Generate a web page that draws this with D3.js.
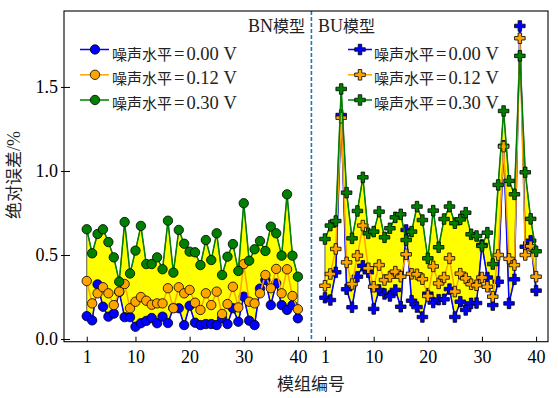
<!DOCTYPE html>
<html><head><meta charset="utf-8">
<script src="https://cdn.jsdelivr.net/npm/d3@7"></script>
<style>body{margin:0;background:#fff}svg{display:block}</style>
</head><body>
<svg id="chart" width="558" height="398"></svg>
<script>
// ---- data ----
const moduleIds = d3.range(1, 41);
const bnOffset = 0, buOffset = 44;
const xTickLabels = [1, 10, 20, 30, 40];
const yTicks = [0.0, 0.5, 1.0, 1.5];
const seriesNames = ["噪声水平=0.00 V", "噪声水平=0.12 V", "噪声水平=0.30 V"];
const seriesColors = ["#0000ff", "#ffa500", "#008000"];

const bn000 = [0.136,0.111,0.325,0.192,0.133,0.151,0.28,0.13,0.13,0.073,0.094,0.108,0.125,0.094,0.133,0.095,0.185,0.183,0.083,0.198,
               0.097,0.083,0.089,0.089,0.083,0.123,0.089,0.183,0.103,0.252,0.109,0.083,0.30,0.351,0.202,0.331,0.202,0.173,0.202,0.123];
const bn012 = [0.345,0.212,0.272,0.308,0.272,0.202,0.282,0.327,0.183,0.222,0.25,0.228,0.204,0.212,0.212,0.302,0.183,0.308,0.272,0.292,
               0.216,0.173,0.272,0.202,0.282,0.149,0.208,0.311,0.188,0.446,0.222,0.212,0.272,0.381,0.302,0.417,0.272,0.415,0.256,0.177];
const bn030 = [0.653,0.51,0.625,0.653,0.577,0.486,0.341,0.696,0.39,0.526,0.673,0.446,0.446,0.486,0.415,0.704,0.395,0.649,0.567,0.52,
               0.516,0.44,0.589,0.47,0.629,0.381,0.49,0.565,0.405,0.808,0.466,0.534,0.583,0.524,0.669,0.629,0.496,0.861,0.496,0.371];
const bu000 = [0.246,0.232,0.397,1.333,0.296,0.189,0.371,0.436,0.397,0.179,0.292,0.268,0.256,0.292,0.192,0.649,0.228,0.19,0.131,0.27,
               0.217,0.234,0.236,0.297,0.131,0.222,0.173,0.212,0.214,0.56,0.366,0.202,0.341,1.15,0.212,0.355,1.863,0.549,0.585,0.288];
const bu012 = [0.317,0.387,0.536,1.317,0.456,0.327,0.496,0.675,0.421,0.311,0.44,0.351,0.371,0.401,0.371,0.504,0.388,0.385,0.356,0.256,
               0.432,0.331,0.366,0.48,0.282,0.389,0.361,0.326,0.32,0.366,0.311,0.252,0.5,1.145,0.477,0.44,1.79,0.5,0.552,0.371];
const bu030 = [0.595,0.675,0.702,1.488,0.871,0.599,0.762,0.962,0.629,0.639,0.758,0.605,0.659,0.724,0.742,0.589,0.639,0.788,0.708,0.48,
               0.764,0.546,0.714,0.788,0.689,0.712,0.752,0.623,0.613,0.554,0.633,0.446,0.917,1.357,0.941,0.861,1.685,0.992,0.715,0.522];

const serif = "'Liberation Serif','Times New Roman',serif";
const cjk = "'Noto Sans CJK SC','Noto Sans CJK JP',sans-serif";

const svg = d3.select("#chart");
const L = 64, R = 548, T = 11, B = 341.7;
const x = d3.scaleLinear().domain([-3.2, 86.2]).range([L, R]);
const y = d3.scaleLinear().domain([-0.016, 1.952]).range([B, T]);

const plus = d3.symbol().type(d3.symbolCross).size(62);

function drawPanel(offset, s0, s1, s2, marker) {
  const pts = moduleIds.map((m, i) => ({x: m + offset, a: s0[i], b: s1[i], c: s2[i]}));
  svg.append("path").datum(pts)
    .attr("d", d3.area().x(d => x(d.x)).y0(d => y(d.a)).y1(d => y(d.c)))
    .attr("fill", "#ffff00").attr("stroke", "#333").attr("stroke-width", 0.8);
  [s0, s1, s2].forEach((s, k) => {
    const data = moduleIds.map((m, i) => ({x: m + offset, v: s[i]}));
    svg.append("path").datum(data)
      .attr("d", d3.line().x(d => x(d.x)).y(d => y(d.v)))
      .attr("fill", "none").attr("stroke", seriesColors[k]).attr("stroke-width", 1.5);
    const g = svg.append("g");
    if (marker === "circle") {
      g.selectAll("circle").data(data).join("circle")
        .attr("cx", d => x(d.x)).attr("cy", d => y(d.v)).attr("r", 4.7)
        .attr("fill", seriesColors[k]).attr("stroke", "#000").attr("stroke-width", 0.8);
    } else {
      g.selectAll("path").data(data).join("path")
        .attr("d", plus).attr("transform", d => `translate(${x(d.x)},${y(d.v)})`)
        .attr("fill", seriesColors[k]).attr("stroke", "#000").attr("stroke-width", 0.8);
    }
  });
}

drawPanel(bnOffset, bn000, bn012, bn030, "circle");
drawPanel(buOffset, bu000, bu012, bu030, "plus");

// divider
svg.append("line").attr("x1", x(42.5)).attr("x2", x(42.5)).attr("y1", T).attr("y2", B)
  .attr("stroke", "#1f77b4").attr("stroke-width", 1.6).attr("stroke-dasharray", "4,2");

// frame
svg.append("rect").attr("x", L).attr("y", T).attr("width", R - L).attr("height", B - T)
  .attr("fill", "none").attr("stroke", "#000").attr("stroke-width", 1.1);

// axes
const xTickVals = xTickLabels.map(v => v + bnOffset).concat(xTickLabels.map(v => v + buOffset));
const xAxis = svg.append("g").attr("transform", `translate(0,${B})`)
  .call(d3.axisBottom(x).tickValues(xTickVals).tickFormat(d => d > 42 ? d - buOffset : d)
    .tickSizeInner(-5).tickSizeOuter(0).tickPadding(8.5));
xAxis.select(".domain").remove();
xAxis.selectAll("text").attr("font-family", serif).attr("font-size", 18).attr("fill", "#000");
xAxis.selectAll("line").attr("stroke", "#000");

const yAxis = svg.append("g").attr("transform", `translate(${L},0)`)
  .call(d3.axisLeft(y).tickValues(yTicks).tickFormat(d3.format(".1f"))
    .tickSizeInner(-6).tickSizeOuter(0).tickPadding(6));
yAxis.select(".domain").remove();
yAxis.selectAll("text").attr("font-family", serif).attr("font-size", 18).attr("fill", "#000");
yAxis.selectAll("line").attr("stroke", "#000");
yAxis.selectAll(".tick").append("line").attr("x1", -3).attr("x2", 0).attr("stroke", "#000");

// axis labels
svg.append("text").attr("x", 311).attr("y", 390).attr("text-anchor", "middle")
  .attr("font-family", cjk).attr("font-size", 17).attr("fill", "#222").text("模组编号");
const yl = svg.append("text").attr("transform", "translate(20,175) rotate(-90)").attr("text-anchor", "middle")
  .attr("fill", "#222");
yl.append("tspan").attr("font-family", cjk).attr("font-size", 17).text("绝对误差");
yl.append("tspan").attr("font-family", serif).attr("font-size", 18).text("/%");

// panel titles
function title(xp, yp, anchor, latinTxt, cjkTxt) {
  const t = svg.append("text").attr("x", xp).attr("y", yp).attr("text-anchor", anchor).attr("fill", "#222");
  t.append("tspan").attr("font-family", serif).attr("font-size", 18).text(latinTxt);
  t.append("tspan").attr("font-family", cjk).attr("font-size", 16).text(cjkTxt);
}
title(305, 32, "end", "BN", "模型");
title(318, 32, "start", "BU", "模型");

// legends
const rowsMarker = [49.5, 74.8, 100];
const rowsText = [60, 84, 108.5];
function legend(lx0, lx1, mx, tx, marker) {
  seriesNames.forEach((name, k) => {
    svg.append("line").attr("x1", lx0).attr("x2", lx1).attr("y1", rowsMarker[k]).attr("y2", rowsMarker[k])
      .attr("stroke", seriesColors[k]).attr("stroke-width", 1.5);
    if (marker === "circle") {
      svg.append("circle").attr("cx", mx).attr("cy", rowsMarker[k]).attr("r", 4.7)
        .attr("fill", seriesColors[k]).attr("stroke", "#000").attr("stroke-width", 0.8);
    } else {
      svg.append("path").attr("d", plus).attr("transform", `translate(${mx},${rowsMarker[k]})`)
        .attr("fill", seriesColors[k]).attr("stroke", "#000").attr("stroke-width", 0.8);
    }
    const parts = name.split("=");
    const t = svg.append("text").attr("x", tx).attr("y", rowsText[k]).attr("fill", "#222");
    t.append("tspan").attr("font-family", cjk).attr("font-size", 15).text(parts[0]);
    t.append("tspan").attr("font-family", serif).attr("font-size", 18.5).attr("dx", 2).text("=");
    t.append("tspan").attr("font-family", serif).attr("font-size", 18.5).attr("dx", 2).text(parts[1]);
  });
}
legend(80, 109, 95, 112, "circle");
legend(348, 372, 360, 374, "plus");
</script>
</body></html>
